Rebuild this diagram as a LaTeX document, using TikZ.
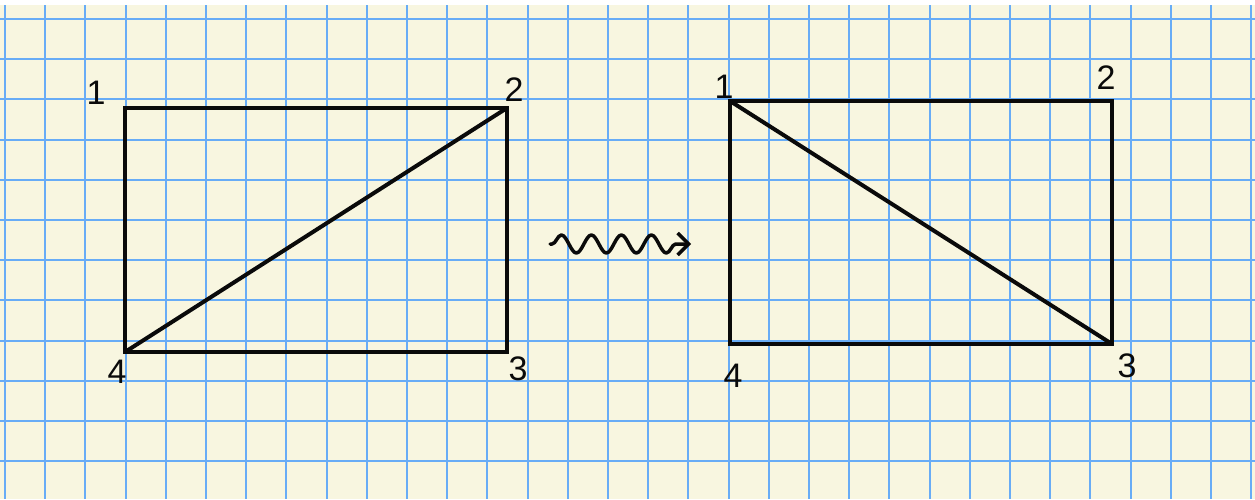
\documentclass[tikz,border=0pt]{standalone}
\usepackage{fontspec}
\setmainfont{Liberation Sans}
\usepackage{tikz}
\usetikzlibrary{arrows.meta,decorations.pathmorphing}
\definecolor{paper}{RGB}{248,246,224}
\definecolor{gridblue}{RGB}{104,172,246}
\definecolor{ink}{RGB}{10,10,10}
\newcommand{\fNum}{\fontsize{34}{40}\selectfont}

\begin{document}
\begin{tikzpicture}[x=1pt,y=-1pt,
  edge/.style={draw=ink,line width=4pt,line join=miter},
  num/.style={inner sep=0pt,text=ink,font=\fNum},
  squig/.style={draw=ink,line width=3.5pt,line cap=round,line join=round,
    decorate,decoration={snake,segment length=30pt,amplitude=9pt,pre length=2pt,post length=14pt},
    -{Straight Barb[length=11pt,width=22pt,line width=3.5pt]}}]
  \useasboundingbox (0,0) rectangle (1255,499);
  \fill[white] (0,0) rectangle (1255,499);
  \fill[paper] (0,5) rectangle (1255,499);
  % grid paper
  \foreach \k in {0,...,11} \draw[gridblue,line width=2pt] (0,19+40.2*\k) -- (1255,19+40.2*\k);
  \foreach \k in {0,...,31} \draw[gridblue,line width=2pt] (5+40.2*\k,5) -- (5+40.2*\k,499);
  % left rectangle
  \coordinate (a1) at (125,108);
  \coordinate (a2) at (507,108);
  \coordinate (a3) at (507,352);
  \coordinate (a4) at (125,352);
  \draw[edge] (a1) -- (a2) -- (a3) -- (a4) -- cycle;
  \draw[edge] (a4) -- (a2);
  \node[num] (la1) at (96,93) {1};
  \node[num] (la2) at (514,90) {2};
  \node[num] (la3) at (518,369) {3};
  \node[num] (la4) at (117,372) {4};
  % right rectangle
  \coordinate (b1) at (730,101);
  \coordinate (b2) at (1112,101);
  \coordinate (b3) at (1112,344);
  \coordinate (b4) at (730,344);
  \draw[edge] (b1) -- (b2) -- (b3) -- (b4) -- cycle;
  \draw[edge] (b1) -- (b3);
  \node[num] (lb1) at (724,87) {1};
  \node[num] (lb2) at (1106,78) {2};
  \node[num] (lb3) at (1127,366) {3};
  \node[num] (lb4) at (733,376) {4};
  % squiggly arrow
  \coordinate (s0) at (550,244);
  \coordinate (s1) at (691,244);
  \draw[squig] (s0) -- (s1);
\end{tikzpicture}
\end{document}
